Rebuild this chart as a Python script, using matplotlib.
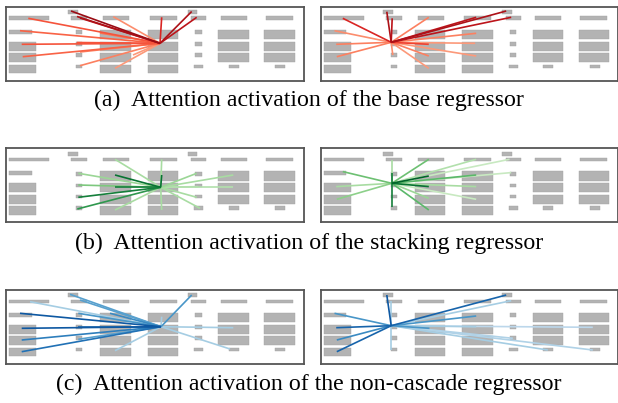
import numpy as np
import matplotlib
matplotlib.use('Agg')
import matplotlib.pyplot as plt
from matplotlib.patches import Rectangle

W, H = 618, 403

# layout boxes of the page (x0, y0, x1, y1) in panel pixels
row_y = [(29.5, 39), (41.5, 50.5), (53, 62), (64.5, 73)]
sq_y = [(30, 34), (42, 45.5), (53, 56.5), (64.5, 68)]
boxes = [(68.3, 10, 78.3, 14), (187.7, 10, 197.3, 14)]
for x0, x1 in [(9.3, 49.3), (71, 87.3), (103.3, 129), (149.7, 176.7),
               (191, 206), (220.7, 246.7), (265.7, 292.7)]:
    boxes.append((x0, 16.3, x1, 19.7))
boxes.append((9.3, 29.5, 31.7, 33.8))
for y0, y1 in row_y[1:]:
    boxes.append((9.3, y0, 36.3, y1))
for y0, y1 in sq_y:
    boxes.append((76, y0, 82.3, y1))
for x0, x1 in [(100, 130.7), (147.7, 178.3)]:
    for y0, y1 in row_y:
        boxes.append((x0, y0, x1, y1))
for y0, y1 in sq_y[:3]:
    boxes.append((195, y0, 201.7, y1))
boxes.append((194, 64.5, 203.3, 68))
for x0, x1, b0, b1 in [(218.3, 248.7, 228.7, 238.7), (264.3, 294.7, 275, 285)]:
    for y0, y1 in row_y[:3]:
        boxes.append((x0, y0, x1, y1))
    boxes.append((b0, 64.5, b1, 68))

# attention lines: centre point, end points, weight
a_left_c = (160, 43.3)
a_left_x = [71, 77, 80, 161.7, 191.7, 196.7, 113.3, 28.3, 20, 21.7, 22.7, 76.7, 80, 115, 100, 133, 80]
a_left_y = [11, 16.5, 18, 17.3, 11.5, 17.3, 16.7, 18.3, 30.7, 44.3, 56.7, 42.5, 65.7, 68.3, 33, 55, 52]
a_left_w = [0.95, 0.9, 0.85, 0.75, 0.9, 0.85, 0.4, 0.6, 0.55, 0.6, 0.55, 0.6, 0.45, 0.35, 0.5, 0.35, 0.45]

a_right_c = (76.7, 42.3)
a_right_x = [72.3, 77.7, 28.3, 20, 21.7, 22.3, 114.3, 161.7, 191.7, 196.7, 161.7, 160.7, 161.7, 114.3, 114.3, 114.3, 78.3]
a_right_y = [11.7, 18.3, 18.3, 30.7, 44.3, 56.7, 17.3, 17.3, 11, 17.3, 33.3, 43.3, 56, 44.3, 56, 68.3, 55]
a_right_w = [0.9, 0.85, 0.75, 0.4, 0.45, 0.45, 0.45, 0.85, 0.9, 0.85, 0.45, 0.35, 0.35, 0.65, 0.45, 0.35, 0.4]

b_left_c = (160.7, 45.7)
b_left_x = [115, 161.7, 161.7, 161.7, 78.3, 78.3, 78.3, 77.3, 115, 115, 115, 196.7, 198.3, 196.7, 200, 233.3, 233.3]
b_left_y = [17.7, 17.7, 33.4, 68.4, 31.7, 43.4, 55.7, 67.4, 33.4, 45.7, 68.4, 31.7, 45, 55.7, 66.7, 33.4, 45.7]
b_left_w = [0.35, 0.35, 0.9, 0.35, 0.4, 0.5, 0.85, 0.75, 0.9, 0.85, 0.35, 0.4, 0.3, 0.35, 0.35, 0.35, 0.3]

b_right_c = (77.3, 41.7)
b_right_x = [77.3, 77.3, 77.3, 28.3, 21.7, 22.3, 114.3, 114.3, 114.3, 114.3, 114.3, 161.7, 195, 161.7, 161.7, 161.7, 196.7]
b_right_y = [18.4, 65, 31, 30, 45, 57.7, 17.7, 34.4, 45, 56.7, 68.4, 17.7, 17.7, 33.4, 45, 57.7, 31]
b_right_w = [0.35, 0.85, 0.85, 0.55, 0.35, 0.45, 0.55, 0.95, 0.9, 0.4, 0.6, 0.3, 0.2, 0.6, 0.35, 0.2, 0.2]

c_left_c = (161, 43.4)
c_left_x = [70, 80, 30, 20, 21.7, 21.7, 21.7, 78.3, 78.3, 78.3, 115, 161.7, 191.7, 233.3, 230, 110]
c_left_y = [11, 16.7, 18.4, 30, 45, 56.7, 68.4, 30, 43.4, 56, 67.4, 33.4, 11.7, 44.4, 65.7, 30]
c_left_w = [0.6, 0.6, 0.35, 0.9, 0.9, 0.75, 0.8, 0.65, 0.85, 0.6, 0.35, 0.35, 0.65, 0.35, 0.35, 0.7]

c_right_c = (76.7, 42.4)
c_right_x = [72.3, 76.7, 76.7, 20, 21.7, 22.3, 22.3, 191.7, 196.7, 161.7, 161.7, 278.3, 233.3, 278.3, 115, 198.3]
c_right_y = [11.7, 17.4, 66.7, 30, 44.4, 56.7, 68.4, 11.7, 17.4, 32.7, 43.4, 44, 66.7, 66.7, 45, 55]
c_right_w = [0.9, 0.35, 0.35, 0.65, 0.85, 0.7, 0.85, 0.85, 0.35, 0.65, 0.35, 0.25, 0.35, 0.3, 0.65, 0.3]

captions = ['(a)  Attention activation of the base regressor',
            '(b)  Attention activation of the stacking regressor',
            '(c)  Attention activation of the non-cascade regressor']

panels = [
    [(a_left_c, a_left_x, a_left_y, a_left_w), (a_right_c, a_right_x, a_right_y, a_right_w)],
    [(b_left_c, b_left_x, b_left_y, b_left_w), (b_right_c, b_right_x, b_right_y, b_right_w)],
    [(c_left_c, c_left_x, c_left_y, c_left_w), (c_right_c, c_right_x, c_right_y, c_right_w)],
]
cmaps = [plt.get_cmap('Reds'), plt.get_cmap('Greens'), plt.get_cmap('Blues')]

row_top = [6.7, 148.3, 290]
col_left = [6, 320.5]
cap_y = [100, 243, 384]
pw, ph = 297.5, 74

fig = plt.figure(figsize=(W / 100, H / 100), dpi=100)

for r in range(3):
    for c in range(2):
        ax = fig.add_axes([col_left[c] / W, 1 - (row_top[r] + ph) / H, pw / W, ph / H])
        ax.set_xlim(6, 6 + pw)
        ax.set_ylim(6.7 + ph, 6.7)
        ax.set_xticks([])
        ax.set_yticks([])
        for s in ax.spines.values():
            s.set_color('#555555')
            s.set_linewidth(1.3)
        for x0, y0, x1, y1 in boxes:
            ax.add_patch(Rectangle((x0, y0), x1 - x0, y1 - y0, facecolor='#b3b3b3',
                                   edgecolor='#a3a3a3', linewidth=0.3, zorder=1))
        cen, xs, ys, ws = panels[r][c]
        order = np.argsort(ws)
        for i in order:
            col = cmaps[r](0.15 + 0.8 * ws[i] ** 1.3)
            ax.plot([cen[0], xs[i]], [cen[1], ys[i]], color=col, lw=1.2,
                    solid_capstyle='butt', zorder=2)
    fig.text(0.5, 1 - cap_y[r] / H, captions[r], ha='center', va='center',
             fontsize=17.2, family=['Liberation Serif', 'DejaVu Serif'])

fig.savefig('out.png', dpi=100)
